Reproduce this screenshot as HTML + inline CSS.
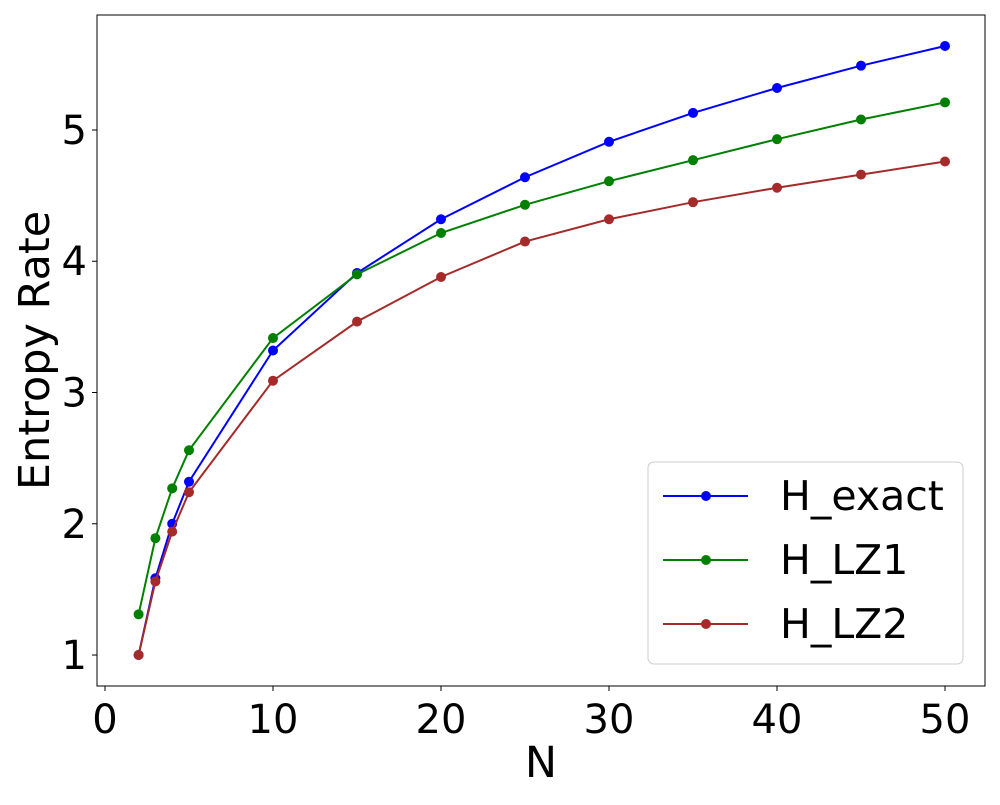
<!DOCTYPE html>
<html><head><meta charset="utf-8"><style>
body{margin:0;background:#fff;}
svg{font-family:"DejaVu Sans","Liberation Sans",sans-serif;}
</style></head><body>
<svg id="chart" width="1000" height="800" xmlns="http://www.w3.org/2000/svg"></svg>
<script>
const nValues=[2,3,4,5,10,15,20,25,30,35,40,45,50];
const hExact=[1.0,1.585,2.0,2.32,3.32,3.91,4.32,4.64,4.91,5.13,5.32,5.49,5.64];
const hLZ1=[1.31,1.89,2.27,2.56,3.415,3.90,4.215,4.43,4.61,4.77,4.93,5.08,5.21];
const hLZ2=[1.0,1.56,1.94,2.24,3.09,3.54,3.88,4.15,4.32,4.45,4.56,4.66,4.76];
const xTicks=[0,10,20,30,40,50];
const yTicks=[1,2,3,4,5];
const seriesNames=["H_exact","H_LZ1","H_LZ2"];
const seriesColors=["#0000ff","#008000","#a52a2a"];

const svg=document.getElementById('chart');
const NS="http://www.w3.org/2000/svg";
const L=97,R=985,T=15,B=686;
const xMin=-0.476,xMax=52.38,yMin=0.764,yMax=5.876;
const xs=v=>L+(v-xMin)/(xMax-xMin)*(R-L);
const ys=v=>B-(v-yMin)/(yMax-yMin)*(B-T);
function mk(tag,attrs,parent){const e=document.createElementNS(NS,tag);for(const k in attrs)e.setAttribute(k,attrs[k]);(parent||svg).appendChild(e);return e;}

const frame=mk('rect',{x:L,y:T,width:R-L,height:B-T,fill:'none',stroke:'#000','stroke-width':1});



xTicks.forEach(t=>{
  const l=mk('line',{x1:xs(t),x2:xs(t),y1:B,y2:B+5,stroke:'#000'});
  
  
  const tx=mk('text',{x:xs(t),y:B+47,'font-size':40,'text-anchor':'middle'});
  tx.textContent=t;
  
  
});
yTicks.forEach(t=>{
  const l=mk('line',{x1:L-5,x2:L,y1:ys(t),y2:ys(t),stroke:'#000'});
  
  
  const tx=mk('text',{x:L-10,y:ys(t)+14,'font-size':40,'text-anchor':'end'});
  tx.textContent=t;
  
  
});
const xl=mk('text',{x:(L+R)/2,y:777,'font-size':43,'text-anchor':'middle'});
xl.textContent='N';


const yl=mk('text',{x:0,y:0,'font-size':43,'text-anchor':'middle',transform:`translate(49,${(T+B)/2}) rotate(-90)`});
yl.textContent='Entropy Rate';



[hExact,hLZ1,hLZ2].forEach((vals,i)=>{
  const g=mk('g',{});
  
  
  const pts=vals.map((v,j)=>xs(nValues[j])+','+ys(v)).join(' ');
  mk('polyline',{points:pts,fill:'none',stroke:seriesColors[i],'stroke-width':2},g);
  vals.forEach((v,j)=>{
    const c=mk('circle',{cx:xs(nValues[j]),cy:ys(v),r:5,fill:seriesColors[i]},g);
    
    
  });
});

const lg=mk('g',{});


mk('rect',{x:648,y:462,width:315,height:202,rx:6,fill:'#fff',stroke:'#ccc'},lg);
seriesNames.forEach((n,i)=>{
  const y=496+i*64;
  const e=mk('g',{},lg);
  
  
  mk('line',{x1:663,x2:748,y1:y,y2:y,stroke:seriesColors[i],'stroke-width':2},e);
  mk('circle',{cx:706,cy:y,r:5,fill:seriesColors[i]},e);
  const t=mk('text',{x:780,y:y+14,'font-size':41},e);
  t.textContent=n;
});
</script>
</body></html>
